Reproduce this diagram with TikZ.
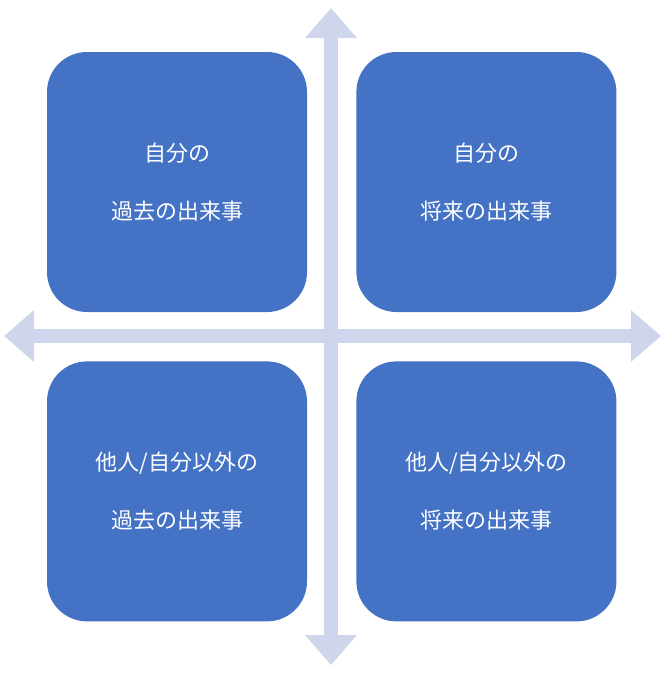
\documentclass[tikz,border=0pt]{standalone}
\usepackage{fontspec}
\setmainfont{Noto Sans CJK JP}
\usetikzlibrary{arrows.meta, positioning}
\definecolor{quadblue}{RGB}{68, 114, 196}
\definecolor{axisgray}{RGB}{207, 213, 234}

\begin{document}
\begin{tikzpicture}[
    x=1pt, y=-1pt,
    node distance=49pt,
    quad/.style={rectangle, fill=quadblue, text=white, minimum width=260pt, minimum height=260pt,
        rounded corners=40pt, align=center, font=\fontsize{22}{58}\selectfont},
    axis/.style={line width=14pt, axisgray, {Triangle[width=50pt,length=30pt]}-{Triangle[width=50pt,length=30pt]}}
]
    \useasboundingbox (0,0) rectangle (670,675);
    % Axes end points
    \coordinate (top) at (331,8);
    \coordinate (bottom) at (331,665);
    \coordinate (left) at (4,336);
    \coordinate (right) at (661,336);
    \draw[axis] (top) -- (bottom);
    \draw[axis] (left) -- (right);

    % Quadrants
    \node[quad] (pastself) at (177,182) {自分の\\過去の出来事};
    \node[quad, right=of pastself] (futureself) {自分の\\将来の出来事};
    \node[quad, below=of pastself] (pastother) {他人/自分以外の\\過去の出来事};
    \node[quad, below=of futureself] (futureother) {他人/自分以外の\\将来の出来事};
\end{tikzpicture}
\end{document}
